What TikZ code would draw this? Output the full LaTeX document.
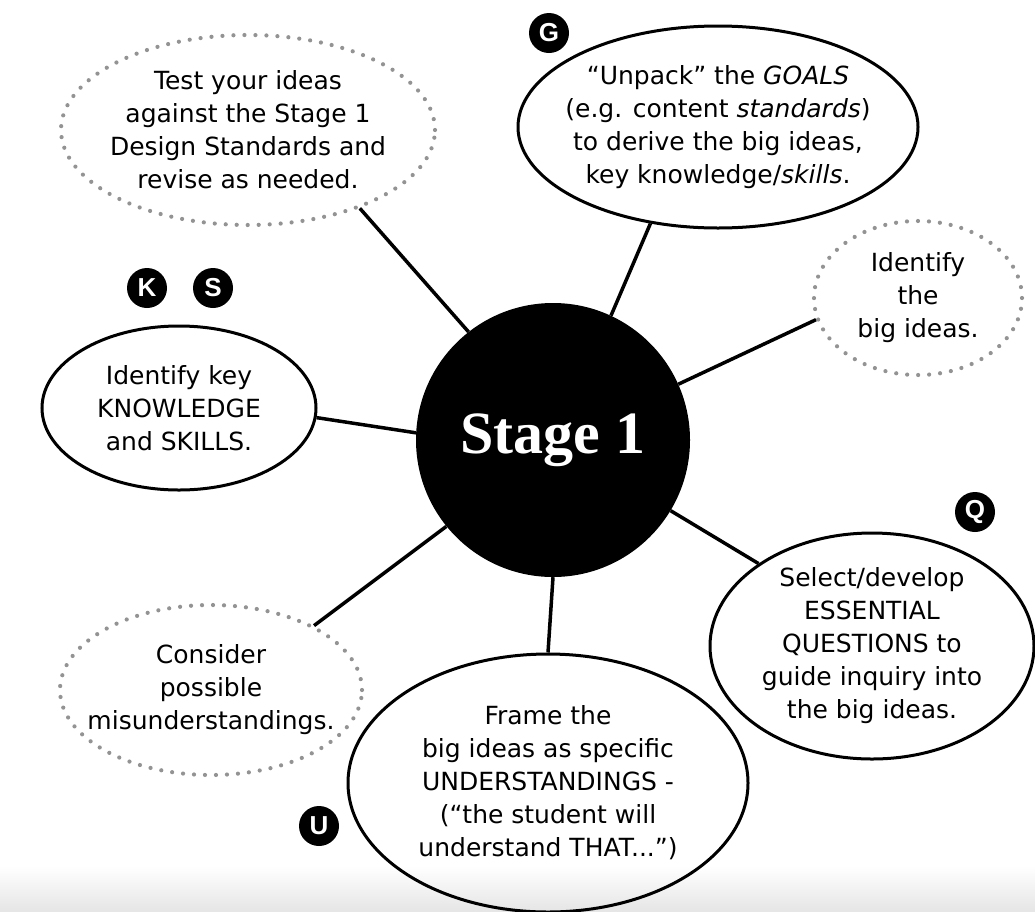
\documentclass[tikz,border=0pt]{standalone}
\usepackage{fontspec}
\setmainfont{DejaVu Sans}
\newfontfamily\stagefont{Liberation Serif}
\newfontfamily\badgefont{Liberation Sans}
\usetikzlibrary{shapes.geometric}

\begin{document}
\begin{tikzpicture}[x=1pt,y=-1pt,
    idea/.style={ellipse,draw,line width=3pt,inner sep=-30pt,align=center,font=\fontsize{25}{33}\selectfont},
    maybe/.style={idea,draw=gray!85,dash pattern=on 0pt off 11pt,line cap=round,line width=4.2pt},
    badge/.style={circle,fill=black,text=white,minimum size=40pt,inner sep=0pt,font=\badgefont\bfseries\fontsize{26}{26}\selectfont},
    spoke/.style={line width=3.5pt}]
    \useasboundingbox (0,0) rectangle (1035,911);
    \shade[top color=white,bottom color=black!10] (0,866) rectangle (1035,911);

    % hub
    \node[circle,fill=black,minimum size=274pt,inner sep=0pt,text=white,font=\stagefont\bfseries\fontsize{60}{60}\selectfont] (stage) at (553,440) {Stage 1};

    % ideas round the hub
    \node[maybe,minimum width=374pt,minimum height=190pt] (test) at (248,130) {Test your ideas\\against the Stage 1\\Design Standards and\\revise as needed.};
    \node[idea,minimum width=400pt,minimum height=202pt] (goals) at (718,127) {“Unpack” the \textit{GOALS}\\(e.g. content \textit{standards})\\to derive the big ideas,\\key knowledge/\textit{skills}.};
    \node[maybe,minimum width=208pt,minimum height=154pt] (big) at (918,298) {Identify\\the\\big ideas.};
    \node[idea,minimum width=274pt,minimum height=164pt] (know) at (179,408) {Identify key\\KNOWLEDGE\\and SKILLS.};
    \node[idea,minimum width=324pt,minimum height=226pt] (quest) at (872,646) {Select/develop\\ESSENTIAL\\QUESTIONS to\\guide inquiry into\\the big ideas.};
    \node[maybe,minimum width=302pt,minimum height=170pt] (mis) at (211,690) {Consider\\possible\\misunderstandings.};
    \node[idea,minimum width=400pt,minimum height=258pt] (under) at (548,783) {Frame the\\big ideas as specific\\UNDERSTANDINGS -\\(“the student will\\understand THAT...”)};

    % spokes
    \draw[spoke] (stage.128.7) -- (test.-35);
    \draw[spoke] (stage.65.8) -- (goals.-125.6);
    \draw[spoke] (stage.24) -- (big.192);
    \draw[spoke] (stage.177) -- (know.-4.6);
    \draw[spoke] (stage.219) -- (mis.32);
    \draw[spoke] (stage.-90) -- (under.90);
    \draw[spoke] (stage.-31.5) -- (quest.144.4);

    % letter badges
    \node[badge] (g) at (549,33) {G};
    \node[badge] (k) at (147,288) {K};
    \node[badge] (s) at (213,288) {S};
    \node[badge] (q) at (975,512) {Q};
    \node[badge] (u) at (319,826) {U};
\end{tikzpicture}
\end{document}
